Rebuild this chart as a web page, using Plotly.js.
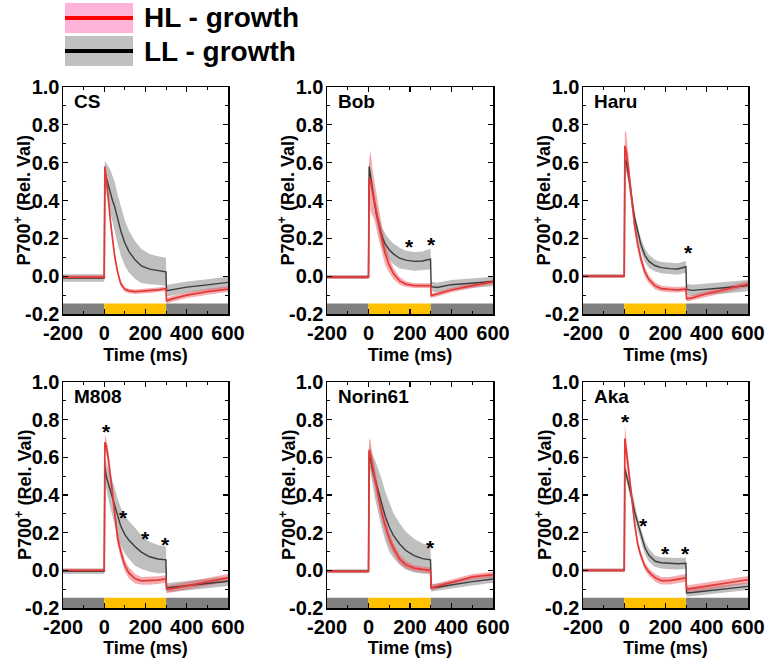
<!DOCTYPE html>
<html>
<head>
<meta charset="utf-8">
<script src="https://cdn.plot.ly/plotly-3.0.1.min.js"></script>
<style>
  body { margin: 0; background: #fff; }
  #P700Chart { width: 767px; height: 658px; }
</style>
</head>
<body>
<div id="P700Chart"></div>
<script>
// time points (ms) shared by all traces
var T = [-200, 0, 3, 10, 20, 30, 40, 50, 65, 80, 100, 120, 150, 180, 220, 260, 299, 302, 330, 400, 500, 600];

var cultivars = ["CS", "Bob", "Haru", "M808", "Norin61", "Aka"];

// tick labels (hyphen minus, as in the original figure)
var xTickVals = [-200, 0, 200, 400, 600];
var xTickText = ["-200", "0", "200", "400", "600"];
var yTickVals = [-0.2, 0, 0.2, 0.4, 0.6, 0.8, 1.0];
var yTickText = ["-0.2", "0.0", "0.2", "0.4", "0.6", "0.8", "1.0"];

// HL-growth mean and spread
var CS_hl = [-0.005, -0.005, 0.58, 0.52, 0.41, 0.29, 0.19, 0.11, 0.02, -0.04, -0.07, -0.078, -0.082, -0.08, -0.077, -0.072, -0.066, -0.13, -0.12, -0.1, -0.082, -0.068];
var CS_hlSd = [0.01, 0.01, 0.02, 0.02, 0.02, 0.02, 0.02, 0.02, 0.015, 0.015, 0.012, 0.012, 0.012, 0.012, 0.012, 0.012, 0.012, 0.015, 0.015, 0.015, 0.015, 0.015];
var Bob_hl = [-0.005, -0.005, 0.52, 0.5, 0.44, 0.39, 0.33, 0.27, 0.19, 0.12, 0.058, 0.014, -0.025, -0.042, -0.05, -0.05, -0.05, -0.103, -0.095, -0.073, -0.05, -0.03];
var Bob_hlSd = [0.008, 0.008, 0.1, 0.16, 0.12, 0.1, 0.09, 0.08, 0.07, 0.06, 0.04, 0.03, 0.02, 0.015, 0.012, 0.012, 0.012, 0.012, 0.012, 0.012, 0.012, 0.012];
var Haru_hl = [0, 0, 0.69, 0.66, 0.57, 0.47, 0.37, 0.27, 0.17, 0.095, 0.022, -0.018, -0.052, -0.066, -0.07, -0.072, -0.068, -0.12, -0.115, -0.093, -0.068, -0.042];
var Haru_hlSd = [0.008, 0.008, 0.08, 0.1, 0.07, 0.05, 0.04, 0.035, 0.03, 0.03, 0.025, 0.02, 0.018, 0.015, 0.015, 0.015, 0.015, 0.015, 0.015, 0.015, 0.015, 0.015];
var M808_hl = [0, 0, 0.68, 0.66, 0.59, 0.51, 0.41, 0.31, 0.17, 0.1, 0.025, -0.015, -0.045, -0.056, -0.056, -0.052, -0.046, -0.1, -0.097, -0.082, -0.062, -0.04];
var M808_hlSd = [0.008, 0.008, 0.04, 0.04, 0.04, 0.04, 0.04, 0.04, 0.04, 0.035, 0.03, 0.03, 0.025, 0.02, 0.02, 0.02, 0.02, 0.02, 0.02, 0.02, 0.02, 0.02];
var Norin_hl = [-0.005, -0.005, 0.64, 0.61, 0.55, 0.5, 0.44, 0.38, 0.3, 0.24, 0.17, 0.118, 0.06, 0.03, 0.012, 0.005, 0.0, -0.093, -0.085, -0.062, -0.035, -0.023];
var Norin_hlSd = [0.008, 0.008, 0.06, 0.08, 0.06, 0.05, 0.05, 0.045, 0.04, 0.04, 0.035, 0.03, 0.025, 0.02, 0.015, 0.015, 0.015, 0.015, 0.015, 0.015, 0.015, 0.015];
var Aka_hl = [0, 0, 0.7, 0.64, 0.54, 0.45, 0.35, 0.25, 0.14, 0.08, 0.022, -0.01, -0.04, -0.055, -0.055, -0.048, -0.04, -0.1, -0.095, -0.082, -0.068, -0.05];
var Aka_hlSd = [0.008, 0.008, 0.08, 0.07, 0.04, 0.03, 0.025, 0.02, 0.02, 0.02, 0.02, 0.02, 0.02, 0.02, 0.02, 0.02, 0.02, 0.02, 0.02, 0.02, 0.02, 0.02];

// LL-growth mean and spread
var CS_ll = [-0.01, -0.01, 0.55, 0.52, 0.48, 0.44, 0.4, 0.37, 0.3, 0.24, 0.175, 0.13, 0.085, 0.054, 0.037, 0.03, 0.023, -0.077, -0.072, -0.058, -0.046, -0.033];
var CS_llSd = [0.02, 0.02, 0.06, 0.08, 0.1, 0.12, 0.13, 0.13, 0.13, 0.13, 0.12, 0.11, 0.1, 0.09, 0.08, 0.075, 0.075, 0.03, 0.03, 0.03, 0.03, 0.03];
var Bob_ll = [-0.005, -0.005, 0.58, 0.52, 0.45, 0.38, 0.32, 0.27, 0.21, 0.17, 0.14, 0.118, 0.095, 0.085, 0.078, 0.08, 0.09, -0.055, -0.06, -0.045, -0.035, -0.028];
var Bob_llSd = [0.01, 0.01, 0.03, 0.04, 0.04, 0.04, 0.04, 0.045, 0.05, 0.055, 0.055, 0.055, 0.055, 0.05, 0.05, 0.05, 0.055, 0.025, 0.025, 0.025, 0.025, 0.025];
var Haru_ll = [0, 0, 0.62, 0.6, 0.54, 0.45, 0.385, 0.31, 0.23, 0.17, 0.11, 0.078, 0.055, 0.045, 0.04, 0.038, 0.05, -0.07, -0.075, -0.07, -0.06, -0.05];
var Haru_llSd = [0.01, 0.01, 0.04, 0.04, 0.04, 0.04, 0.035, 0.035, 0.035, 0.035, 0.035, 0.035, 0.03, 0.03, 0.03, 0.03, 0.03, 0.03, 0.03, 0.03, 0.03, 0.03];
var M808_ll = [-0.005, -0.005, 0.55, 0.5, 0.46, 0.42, 0.38, 0.34, 0.28, 0.235, 0.19, 0.16, 0.125, 0.097, 0.072, 0.06, 0.056, -0.093, -0.09, -0.082, -0.07, -0.058];
var M808_llSd = [0.015, 0.015, 0.05, 0.07, 0.08, 0.09, 0.1, 0.1, 0.1, 0.1, 0.1, 0.1, 0.1, 0.09, 0.08, 0.075, 0.07, 0.025, 0.025, 0.025, 0.025, 0.025];
var Norin_ll = [-0.005, -0.005, 0.63, 0.58, 0.53, 0.49, 0.45, 0.405, 0.35, 0.29, 0.23, 0.185, 0.14, 0.105, 0.078, 0.062, 0.056, -0.093, -0.09, -0.077, -0.06, -0.046];
var Norin_llSd = [0.01, 0.01, 0.04, 0.06, 0.08, 0.1, 0.11, 0.12, 0.13, 0.13, 0.13, 0.12, 0.11, 0.1, 0.09, 0.08, 0.075, 0.02, 0.02, 0.02, 0.02, 0.02];
var Aka_ll = [0, 0, 0.54, 0.51, 0.465, 0.42, 0.37, 0.31, 0.25, 0.19, 0.12, 0.08, 0.048, 0.04, 0.036, 0.035, 0.038, -0.12, -0.118, -0.11, -0.097, -0.085];
var Aka_llSd = [0.01, 0.01, 0.03, 0.035, 0.035, 0.035, 0.035, 0.035, 0.035, 0.035, 0.035, 0.035, 0.03, 0.03, 0.03, 0.03, 0.03, 0.02, 0.02, 0.02, 0.02, 0.02];

// significance marks (time, y)
var starT = [[], [198, 302], [310], [13, 93, 198, 295], [300], [8, 93, 199, 299]];
var starY = [[], [0.186, 0.2], [0.155], [0.77, 0.31, 0.2, 0.17], [0.153], [0.82, 0.27, 0.12, 0.12]];

// light protocol bar
var stimStart = [-200, 0, 300];
var stimEnd = [0, 300, 600];

var hlMean = [CS_hl, Bob_hl, Haru_hl, M808_hl, Norin_hl, Aka_hl];
var hlSd = [CS_hlSd, Bob_hlSd, Haru_hlSd, M808_hlSd, Norin_hlSd, Aka_hlSd];
var llMean = [CS_ll, Bob_ll, Haru_ll, M808_ll, Norin_ll, Aka_ll];
var llSd = [CS_llSd, Bob_llSd, Haru_llSd, M808_llSd, Norin_llSd, Aka_llSd];

var FONT = "Liberation Sans, Arial, sans-serif";
var W = 767, H = 658;
var colPx = [[63, 228], [327, 493], [583, 748]];
var rowPx = [[87, 314], [382, 608]];

function band(mean, sd, color, xa, ya) {
  var xs = T.concat(T.slice().reverse());
  var up = mean.map(function (v, i) { return v + sd[i]; });
  var lo = mean.map(function (v, i) { return v - sd[i]; }).reverse();
  return {
    x: xs, y: up.concat(lo), xaxis: xa, yaxis: ya,
    mode: 'lines', fill: 'toself', fillcolor: color,
    line: { width: 0 }, hoverinfo: 'skip', showlegend: false
  };
}

function meanLine(mean, color, w, xa, ya) {
  return {
    x: T, y: mean, xaxis: xa, yaxis: ya, mode: 'lines',
    line: { color: color, width: w }, hoverinfo: 'skip', showlegend: false
  };
}

var data = [];
var layout = {
  width: W, height: H,
  margin: { l: 0, r: 0, t: 0, b: 0 },
  paper_bgcolor: 'white', plot_bgcolor: 'white',
  font: { family: FONT, color: 'black', weight: 700 },
  showlegend: false,
  shapes: [],
  annotations: []
};

var stimColors = ['#808080', '#FFC000', '#808080'];

for (var p = 0; p < 6; p++) {
  var n = p + 1;
  var xa = 'x' + (n === 1 ? '' : n), ya = 'y' + (n === 1 ? '' : n);
  var xk = 'xaxis' + (n === 1 ? '' : n), yk = 'yaxis' + (n === 1 ? '' : n);
  var c = colPx[p % 3], r = rowPx[Math.floor(p / 3)];

  data.push(band(llMean[p], llSd[p], '#BFBFBF', xa, ya));
  data.push(band(hlMean[p], hlSd[p], 'rgba(235,90,100,0.5)', xa, ya));
  data.push(meanLine(llMean[p], '#3C3C3C', 1.4, xa, ya));
  data.push(meanLine(hlMean[p], '#E53935', 1.7, xa, ya));

  layout[xk] = {
    domain: [c[0] / W, c[1] / W], anchor: ya,
    range: [-200, 600], tickmode: 'array', tickvals: xTickVals, ticktext: xTickText,
    ticks: 'inside', ticklen: 5, tickwidth: 1.3, tickcolor: 'black',
    minor: { dtick: 100, ticks: 'inside', ticklen: 3, tickwidth: 1, tickcolor: 'black' },
    showline: true, linewidth: 1.5, linecolor: 'black', mirror: 'ticks',
    showgrid: false, zeroline: false, fixedrange: true, automargin: false,
    tickfont: { family: FONT, size: 20, weight: 700 },
    title: { text: 'Time (ms)', standoff: 6, font: { family: FONT, size: 18, weight: 700 } }
  };
  layout[yk] = {
    domain: [1 - r[1] / H, 1 - r[0] / H], anchor: xa,
    range: [-0.2, 1.0], tickmode: 'array', tickvals: yTickVals, ticktext: yTickText,
    ticks: 'inside', ticklen: 5, tickwidth: 1.3, tickcolor: 'black',
    minor: { dtick: 0.1, ticks: 'inside', ticklen: 3, tickwidth: 1, tickcolor: 'black' },
    showline: true, linewidth: 1.5, linecolor: 'black', mirror: 'ticks',
    showgrid: false, zeroline: false, fixedrange: true, automargin: false,
    ticklabelstandoff: -2,
    tickfont: { family: FONT, size: 20, weight: 700 }
  };

  for (var s = 0; s < stimStart.length; s++) {
    layout.shapes.push({
      type: 'rect', xref: xa, yref: ya, layer: 'below',
      x0: stimStart[s], x1: stimEnd[s], y0: -0.2, y1: -0.145,
      fillcolor: stimColors[s], line: { width: 0 }
    });
  }

  layout.annotations.push({
    text: cultivars[p], xref: xa + ' domain', yref: ya + ' domain',
    x: 0.055, y: 0.935, xanchor: 'left', yanchor: 'middle', showarrow: false,
    font: { family: FONT, size: 19, weight: 700 }
  });
  // y-axis title placed close to the tick labels, as in the figure
  layout.annotations.push({
    text: 'P700<sup>+</sup> (Rel. Val)', xref: xa + ' domain', yref: ya + ' domain',
    x: 0, xshift: -40, y: 0.5, xanchor: 'center', yanchor: 'middle', textangle: -90,
    showarrow: false, font: { family: FONT, size: 18, weight: 700 }
  });

  // significance asterisks
  for (var k = 0; k < starT[p].length; k++) {
    layout.annotations.push({
      text: '*', xref: xa, yref: ya, x: starT[p][k], y: starY[p][k], yshift: -6,
      xanchor: 'center', yanchor: 'middle', showarrow: false,
      font: { family: FONT, size: 21, weight: 700 }
    });
  }
}

// legend drawn as patches + text
var legendItems = [
  { label: 'HL - growth', patch: '#FFB3D9', line: '#FF0000', top: 3, bottom: 33 },
  { label: 'LL - growth', patch: '#C0C0C0', line: '#000000', top: 36, bottom: 66 }
];
legendItems.forEach(function (it) {
  var mid = (it.top + it.bottom) / 2;
  layout.shapes.push({
    type: 'rect', xref: 'paper', yref: 'paper',
    x0: 65 / W, x1: 133 / W, y0: 1 - it.bottom / H, y1: 1 - it.top / H,
    fillcolor: it.patch, line: { width: 0 }
  });
  layout.shapes.push({
    type: 'line', xref: 'paper', yref: 'paper',
    x0: 65 / W, x1: 133 / W, y0: 1 - mid / H, y1: 1 - mid / H,
    line: { color: it.line, width: 4 }
  });
  layout.annotations.push({
    text: it.label, xref: 'paper', yref: 'paper',
    x: 142 / W, y: 1 - mid / H, xanchor: 'left', yanchor: 'middle', showarrow: false,
    font: { family: FONT, size: 28, weight: 700 }
  });
});

Plotly.newPlot('P700Chart', data, layout, { displayModeBar: false, staticPlot: true });
</script>
</body>
</html>
